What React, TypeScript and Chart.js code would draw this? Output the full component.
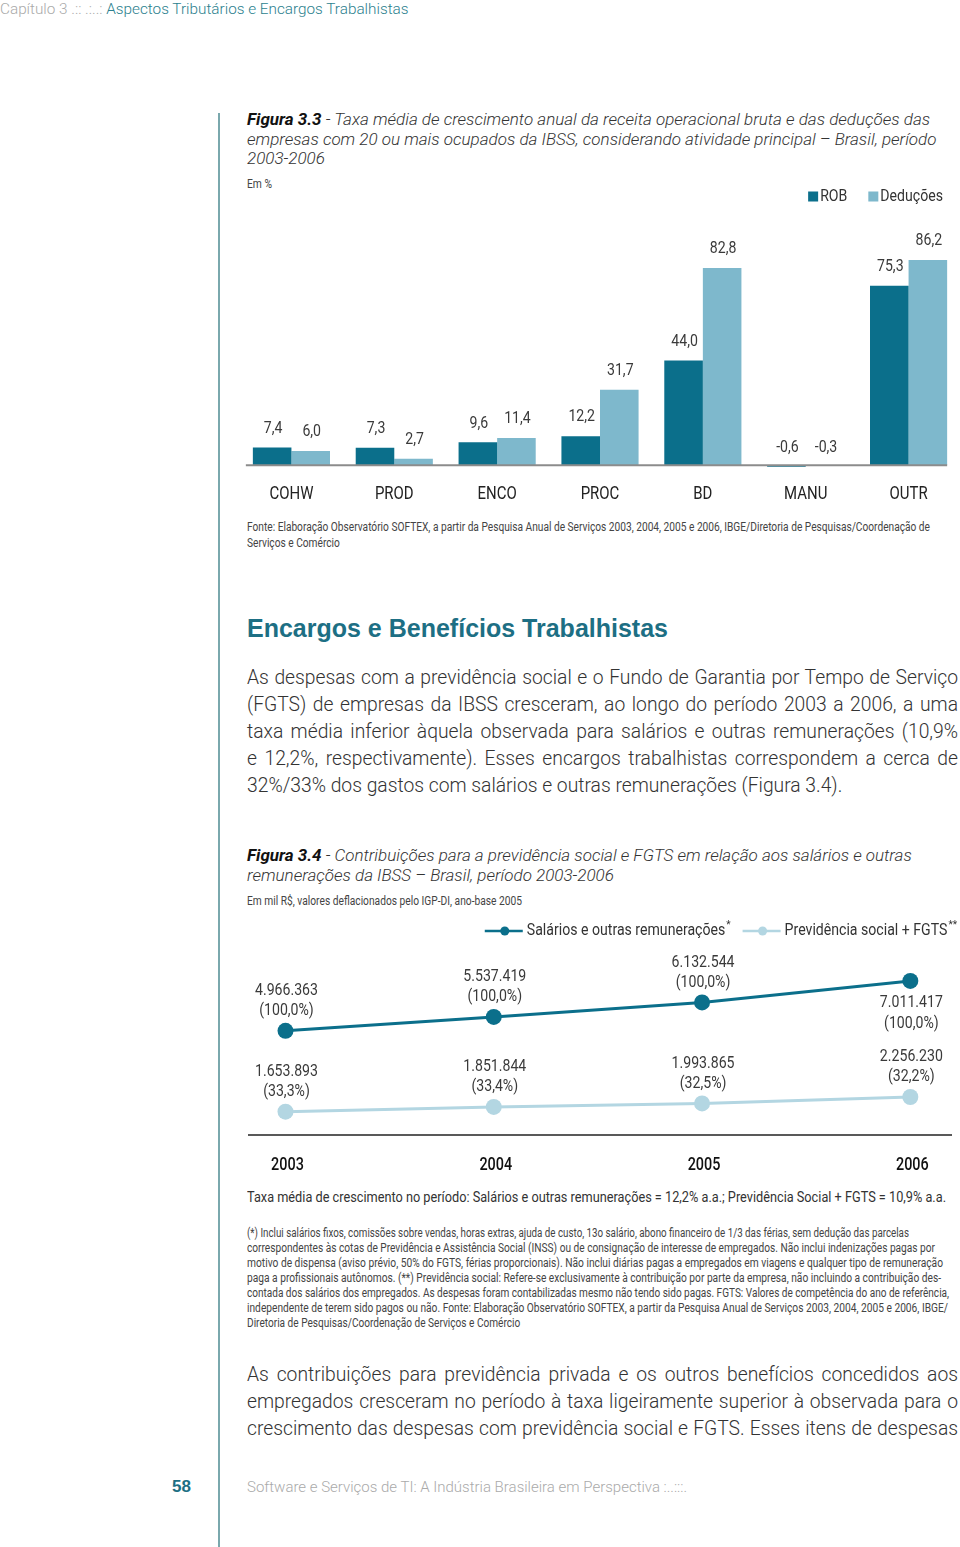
import React, { useEffect, useLayoutEffect, useRef, useState } from 'react';
import { Chart, registerables } from 'chart.js';

Chart.register(...registerables);

// ---------- Data ----------
const categories = ['COHW', 'PROD', 'ENCO', 'PROC', 'BD', 'MANU', 'OUTR'];
const robValues = [7.4, 7.3, 9.6, 12.2, 44.0, -0.6, 75.3];
const deducoesValues = [6.0, 2.7, 11.4, 31.7, 82.8, -0.3, 86.2];
const barSeriesNames = ['ROB', 'Deduções'];

const years = [2003, 2004, 2005, 2006];
const salariosValues = [4966363, 5537419, 6132544, 7011417];
const salariosPct = [100.0, 100.0, 100.0, 100.0];
const previdenciaValues = [1653893, 1851844, 1993865, 2256230];
const previdenciaPct = [33.3, 33.4, 32.5, 32.2];
const lineSeriesNames = ['Salários e outras remunerações', 'Previdência social + FGTS'];
const lineSeriesMarks = ['*', '**'];

// ---------- Styles ----------
const DARK = '#0b6f8b';
const LIGHT_BAR = '#7eb8cc';
const LIGHT_LINE = '#b3d6e2';
const TEAL_TEXT = '#1d6f84';
const ROBOTO = "Roboto, 'Liberation Sans', sans-serif";
const K = 0.83; // horizontal condensing of canvas text

const fmtDec = (v: number) => v.toFixed(1).replace('.', ',');
const fmtThousands = (v: number) => String(v).replace(/\B(?=(\d{3})+(?!\d))/g, '.');

function drawText(ctx: any, text: string, x: number, y: number, align: string, k = K) {
  ctx.save();
  ctx.translate(x, y);
  ctx.scale(k, 1);
  ctx.textAlign = align;
  ctx.fillText(text, 0, 0);
  ctx.restore();
}

function BarChart() {
  const ref = useRef<HTMLCanvasElement | null>(null);
  useEffect(() => {
    if (!ref.current) return;
    const plugin = {
      id: 'barDecor',
      afterDatasetsDraw(chart: any) {
        const ctx = chart.ctx;
        const yZero = chart.scales.y.getPixelForValue(0);
        const m0 = chart.getDatasetMeta(0);
        const m1 = chart.getDatasetMeta(chart.data.datasets.length - 1);
        const first = m0.data[0];
        const last = m1.data[m1.data.length - 1];
        ctx.save();
        ctx.strokeStyle = '#8c8c8c';
        ctx.lineWidth = 2;
        ctx.beginPath();
        ctx.moveTo(first.x - first.width / 2 - 7, yZero);
        ctx.lineTo(last.x + last.width / 2, yZero);
        ctx.stroke();
        ctx.fillStyle = '#3a3a3a';
        ctx.font = `17px ${ROBOTO}`;
        ctx.textBaseline = 'middle';
        chart.data.datasets.forEach((ds: any, di: number) => {
          const meta = chart.getDatasetMeta(di);
          meta.data.forEach((el: any, i: number) => {
            const v = ds.data[i];
            const y = v >= 0 ? el.y - 19 : yZero - 17;
            drawText(ctx, fmtDec(v), el.x + 1, y, 'center');
          });
        });
        const xs = chart.scales.x;
        ctx.fillStyle = '#222';
        ctx.font = `18px ${ROBOTO}`;
        xs.ticks.forEach((t: any, i: number) => {
          drawText(ctx, String(chart.data.labels[i]), xs.getPixelForTick(i), chart.chartArea.bottom + 24, 'center');
        });
        ctx.restore();
      },
      afterDraw(chart: any) {
        const ctx = chart.ctx;
        ctx.save();
        ctx.font = `17px ${ROBOTO}`;
        ctx.textBaseline = 'middle';
        const cy = 16.5;
        let x = chart.width - 17;
        const ds = chart.data.datasets;
        for (let k = ds.length - 1; k >= 0; k--) {
          const tw = ctx.measureText(ds[k].label).width * K;
          const start = x - tw - 12;
          ctx.fillStyle = ds[k].backgroundColor;
          ctx.fillRect(start, cy - 5, 10, 10);
          ctx.fillStyle = '#333';
          drawText(ctx, ds[k].label, start + 12, cy, 'left');
          x = start - 21;
        }
        ctx.restore();
      },
    };
    const chart = new Chart(ref.current, {
      type: 'bar',
      data: {
        labels: categories,
        datasets: [
          { label: barSeriesNames[0], data: robValues, backgroundColor: DARK, categoryPercentage: 0.75, barPercentage: 1 },
          { label: barSeriesNames[1], data: deducoesValues, backgroundColor: LIGHT_BAR, categoryPercentage: 0.75, barPercentage: 1 },
        ],
      },
      options: {
        animation: false,
        responsive: false,
        maintainAspectRatio: false,
        layout: { padding: { top: 47, left: 0, right: 0, bottom: 45 } },
        plugins: { legend: { display: false }, tooltip: { enabled: false } },
        scales: {
          x: { display: false },
          y: { display: false, min: -2, max: 100 },
        },
      },
      plugins: [plugin],
    } as any);
    return () => chart.destroy();
  }, []);
  return (
    <canvas
      ref={ref}
      width={720}
      height={335}
      style={{ position: 'absolute', left: 240, top: 180, width: 720, height: 335 }}
    />
  );
}

function LineChart() {
  const ref = useRef<HTMLCanvasElement | null>(null);
  useEffect(() => {
    if (!ref.current) return;
    const pcts = [salariosPct, previdenciaPct];
    const plugin = {
      id: 'lineDecor',
      beforeDatasetsDraw(chart: any) {
        const ctx = chart.ctx;
        const a = chart.chartArea;
        ctx.save();
        ctx.strokeStyle = '#222';
        ctx.lineWidth = 1.5;
        ctx.beginPath();
        ctx.moveTo(a.left, a.bottom);
        ctx.lineTo(a.right, a.bottom);
        ctx.stroke();
        const xs = chart.scales.x;
        ctx.fillStyle = '#111';
        ctx.font = `500 18px ${ROBOTO}`;
        ctx.textBaseline = 'middle';
        xs.ticks.forEach((t: any) => {
          drawText(ctx, String(t.value), xs.getPixelForValue(t.value) + 2, a.bottom + 30, 'center', 0.8);
        });
        ctx.restore();
      },
      afterDatasetsDraw(chart: any) {
        const ctx = chart.ctx;
        ctx.save();
        ctx.fillStyle = '#3a3a3a';
        ctx.font = `17px ${ROBOTO}`;
        ctx.textBaseline = 'middle';
        chart.data.datasets.forEach((ds: any, di: number) => {
          const meta = chart.getDatasetMeta(di);
          meta.data.forEach((el: any, i: number) => {
            const l1 = fmtThousands(ds.data[i].y);
            const l2 = `(${fmtDec(pcts[di][i])}%)`;
            const below = di === 0 && i === meta.data.length - 1;
            if (below) {
              drawText(ctx, l1, el.x + 1, el.y + 22, 'center');
              drawText(ctx, l2, el.x + 1, el.y + 43, 'center');
            } else {
              drawText(ctx, l1, el.x + 1, el.y - 40, 'center');
              drawText(ctx, l2, el.x + 1, el.y - 20, 'center');
            }
          });
        });
        ctx.restore();
      },
      afterDraw(chart: any) {
        const ctx = chart.ctx;
        ctx.save();
        ctx.textBaseline = 'middle';
        const cy = 16;
        let x = chart.width - 3;
        const ds = chart.data.datasets;
        for (let k = ds.length - 1; k >= 0; k--) {
          ctx.font = `17px ${ROBOTO}`;
          const tw = ctx.measureText(ds[k].label).width * K;
          ctx.font = `10px ${ROBOTO}`;
          const sw = ctx.measureText(lineSeriesMarks[k]).width;
          const start = x - sw - 1 - tw - 4 - 38;
          ctx.strokeStyle = ds[k].borderColor;
          ctx.lineWidth = 2.5;
          ctx.beginPath();
          ctx.moveTo(start, cy);
          ctx.lineTo(start + 38, cy);
          ctx.stroke();
          ctx.fillStyle = ds[k].borderColor;
          ctx.beginPath();
          ctx.arc(start + 20, cy, 4.5, 0, Math.PI * 2);
          ctx.fill();
          ctx.fillStyle = '#333';
          ctx.font = `17px ${ROBOTO}`;
          drawText(ctx, ds[k].label, start + 42, cy, 'left');
          ctx.font = `10px ${ROBOTO}`;
          drawText(ctx, lineSeriesMarks[k], start + 42 + tw + 1, cy - 6, 'left', 1);
          x = start - 12;
        }
        ctx.restore();
      },
    };
    const chart = new Chart(ref.current, {
      type: 'line',
      data: {
        datasets: [
          {
            label: lineSeriesNames[0],
            data: years.map((y, i) => ({ x: y, y: salariosValues[i] })),
            borderColor: DARK,
            backgroundColor: DARK,
            pointBackgroundColor: DARK,
            borderWidth: 3,
            pointRadius: 8,
            pointBorderWidth: 0,
            tension: 0,
          },
          {
            label: lineSeriesNames[1],
            data: years.map((y, i) => ({ x: y, y: previdenciaValues[i] })),
            borderColor: LIGHT_LINE,
            backgroundColor: LIGHT_LINE,
            pointBackgroundColor: LIGHT_LINE,
            borderWidth: 3,
            pointRadius: 8,
            pointBorderWidth: 0,
            tension: 0,
          },
        ],
      },
      options: {
        animation: false,
        responsive: false,
        maintainAspectRatio: false,
        layout: { padding: { top: 54, left: 7, right: 2, bottom: 50 } },
        plugins: { legend: { display: false }, tooltip: { enabled: false } },
        scales: {
          x: {
            type: 'linear',
            display: false,
            min: 2002.82,
            max: 2006.2,
            afterBuildTicks: (s: any) => {
              s.ticks = years.map((v) => ({ value: v }));
            },
          },
          y: { display: false, min: 700000, max: 7500000 },
        },
      },
      plugins: [plugin],
    } as any);
    return () => chart.destroy();
  }, []);
  return (
    <canvas
      ref={ref}
      width={720}
      height={270}
      style={{ position: 'absolute', left: 240, top: 915, width: 720, height: 270 }}
    />
  );
}

function Line(props: { cy: number; left?: number; width?: number; size: number; lh: number; font?: string; weight?: number | string; color?: string; justify?: boolean; italic?: boolean; children: any }) {
  const { cy, left = 247, width = 711, size, lh, font = ROBOTO, weight = 300, color = '#333', justify, italic } = props;
  return (
    <div
      style={{
        position: 'absolute',
        left,
        top: cy - lh / 2,
        width,
        height: lh,
        lineHeight: `${lh}px`,
        fontSize: size,
        fontFamily: font,
        fontWeight: weight as any,
        fontStyle: italic ? 'italic' : 'normal',
        color,
        whiteSpace: 'nowrap',
        textAlign: justify ? 'justify' : 'left',
        textAlignLast: justify ? 'justify' : 'left',
      } as any}
    >
      {props.children}
    </div>
  );
}

// Condensed text: each line is squeezed horizontally. Lines with a target width are fitted to it;
// lines without one use the mean scale of the fitted lines.
function CondensedBlock(props: { lines: string[]; widths: (number | null)[]; cy0: number; step?: number; size: number; lh: number; color?: string; weight?: number }) {
  const { lines, widths, cy0, step = 15, size, lh, color = '#444', weight = 400 } = props;
  const spans = useRef<(HTMLSpanElement | null)[]>([]);
  const [ks, setKs] = useState<number[]>(lines.map(() => 1));
  useLayoutEffect(() => {
    const raw = lines.map((_, i) => {
      const el = spans.current[i];
      const w = el ? el.getBoundingClientRect().width : 0;
      const target = widths[i];
      return target && w > 0 ? target / w : null;
    });
    const known = raw.filter((v) => v !== null) as number[];
    const mean = known.length ? known.reduce((a, b) => a + b, 0) / known.length : 1;
    setKs(raw.map((v) => (v === null ? mean : v)));
  }, []);
  return (
    <>
      {lines.map((t, i) => (
        <div
          key={i}
          style={{
            position: 'absolute',
            left: 247,
            top: cy0 + i * step - lh / 2,
            height: lh,
            lineHeight: `${lh}px`,
            fontSize: size,
            fontFamily: ROBOTO,
            fontWeight: weight,
            color,
            whiteSpace: 'nowrap',
          }}
        >
          <span
            ref={(el) => {
              spans.current[i] = el;
            }}
            style={{ display: 'inline-block', transform: `scaleX(${ks[i]})`, transformOrigin: 'left center' }}
          >
            {t}
          </span>
        </div>
      ))}
    </>
  );
}

const para1 = [
  'As despesas com a previdência social e o Fundo de Garantia por Tempo de Serviço',
  '(FGTS) de empresas da IBSS cresceram, ao longo do período 2003 a 2006, a uma',
  'taxa média inferior àquela observada para salários e outras remunerações (10,9%',
  'e 12,2%, respectivamente). Esses encargos trabalhistas correspondem a cerca de',
  '32%/33% dos gastos com salários e outras remunerações (Figura 3.4).',
];
const para2 = [
  'As contribuições para previdência privada e os outros benefícios concedidos aos',
  'empregados cresceram no período à taxa ligeiramente superior à observada para o',
  'crescimento das despesas com previdência social e FGTS. Esses itens de despesas',
];
const fonte1 = [
  'Fonte: Elaboração Observatório SOFTEX, a partir da Pesquisa Anual de Serviços 2003, 2004, 2005 e 2006, IBGE/Diretoria de Pesquisas/Coordenação de',
  'Serviços e Comércio',
];
const footnote = [
  '(*) Inclui salários fixos, comissões sobre vendas, horas extras, ajuda de custo, 13o salário, abono financeiro de 1/3 das férias, sem dedução das parcelas',
  'correspondentes às cotas de Previdência e Assistência Social (INSS) ou de consignação de interesse de empregados. Não inclui indenizações pagas por',
  'motivo de dispensa (aviso prévio, 50% do FGTS, férias proporcionais). Não inclui diárias pagas a empregados em viagens e qualquer tipo de remuneração',
  'paga a profissionais autônomos. (**) Previdência social: Refere-se exclusivamente à contribuição por parte da empresa, não incluindo a contribuição des-',
  'contada dos salários dos empregados. As despesas foram contabilizadas mesmo não tendo sido pagas. FGTS: Valores de competência do ano de referência,',
  'independente de terem sido pagos ou não. Fonte: Elaboração Observatório SOFTEX, a partir da Pesquisa Anual de Serviços 2003, 2004, 2005 e 2006, IBGE/',
  'Diretoria de Pesquisas/Coordenação de Serviços e Comércio',
];
const footnoteWidths = [662, 688, 696, 694, 702, 701, null];

export default function App() {
  return (
    <div style={{ position: 'absolute', left: 0, top: 0, width: 960, height: 1547, background: '#fff', overflow: 'hidden' }}>
      {/* header */}
      <Line cy={9} left={0} width={500} size={15.3} lh={18} color="#aaa">
        Capítulo 3 .:: .:..: <span style={{ color: '#2c7f8e' }}>Aspectos Tributários e Encargos Trabalhistas</span>
      </Line>
      {/* vertical rule */}
      <div style={{ position: 'absolute', left: 218, top: 113, width: 2, height: 1434, background: '#7aa8ad' }} />

      {/* Figure 3.3 title */}
      <Line cy={119} size={17} lh={20} italic color="#333">
        <b style={{ fontWeight: 700, color: '#111' }}>Figura 3.3</b> - Taxa média de crescimento anual da receita operacional bruta e das deduções das
      </Line>
      <Line cy={139} size={17} lh={20} italic color="#333">
        empresas com 20 ou mais ocupados da IBSS, considerando atividade principal – Brasil, período
      </Line>
      <Line cy={158} size={17} lh={20} italic color="#333">
        2003-2006
      </Line>
      <CondensedBlock lines={['Em %']} widths={[25]} cy0={183} size={12.5} lh={15} />

      <BarChart />

      <CondensedBlock lines={fonte1} widths={[683, null]} cy0={526} step={16} size={12.5} lh={15} />

      {/* Section heading */}
      <Line cy={628} size={25} lh={30} font="'Liberation Sans', Arial, sans-serif" weight={700} color={TEAL_TEXT}>
        Encargos e Benefícios Trabalhistas
      </Line>

      {para1.map((t, i) => (
        <Line key={i} cy={678 + i * 27} size={19.3} lh={24} justify={i < para1.length - 1} color="#333">
          {t}
        </Line>
      ))}

      {/* Figure 3.4 title */}
      <Line cy={855} size={17} lh={20} italic color="#333">
        <b style={{ fontWeight: 700, color: '#111' }}>Figura 3.4</b> - Contribuições para a previdência social e FGTS em relação aos salários e outras
      </Line>
      <Line cy={875} size={17} lh={20} italic color="#333">
        remunerações da IBSS – Brasil, período 2003-2006
      </Line>
      <CondensedBlock lines={['Em mil R$, valores deflacionados pelo IGP-DI, ano-base 2005']} widths={[275]} cy0={900} size={12.5} lh={15} />

      <LineChart />

      <CondensedBlock
        lines={['Taxa média de crescimento no período: Salários e outras remunerações = 12,2% a.a.; Previdência Social + FGTS = 10,9% a.a.']}
        widths={[699]}
        cy0={1197}
        size={15.5}
        lh={18}
        color="#333"
      />

      <CondensedBlock lines={footnote} widths={footnoteWidths} cy0={1232} step={15} size={12.5} lh={15} />

      {para2.map((t, i) => (
        <Line key={i} cy={1375 + i * 27} size={19.3} lh={24} justify color="#333">
          {t}
        </Line>
      ))}

      {/* footer */}
      <Line cy={1487} left={172} width={40} size={17} lh={20} font="'Liberation Sans', Arial, sans-serif" weight={700} color={TEAL_TEXT}>
        58
      </Line>
      <Line cy={1487} size={15} lh={18} color="#aaa">
        Software e Serviços de TI: A Indústria Brasileira em Perspectiva :..:::.
      </Line>
    </div>
  );
}
